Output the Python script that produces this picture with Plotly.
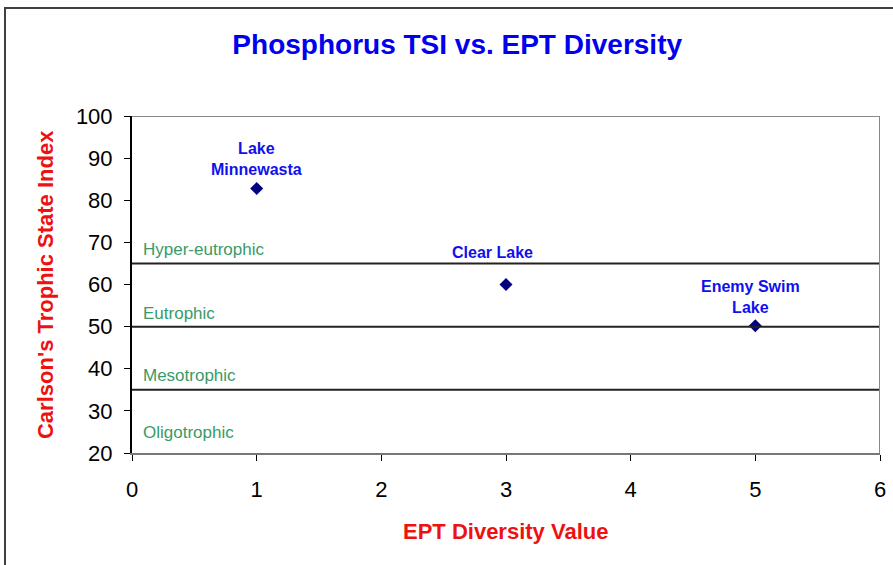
import plotly.graph_objects as go

lakes = ["Lake<br>Minnewasta", "Clear Lake", "Enemy Swim<br>Lake"]
ept_diversity = [1, 3, 5]
tsi = [82.8, 60.0, 50.2]

zone_bounds = [65, 50, 35]
zone_names = ["Hyper-eutrophic", "Eutrophic", "Mesotrophic", "Oligotrophic"]
zone_label_y = [68.2, 53.2, 38.3, 24.8]

x_ticks = [0, 1, 2, 3, 4, 5, 6]
y_ticks = [20, 30, 40, 50, 60, 70, 80, 90, 100]

FONT = "Liberation Sans, Arial, sans-serif"

fig = go.Figure()
fig.add_trace(go.Scatter(
    x=ept_diversity, y=tsi, mode="markers",
    marker=dict(symbol="diamond", size=10, color="#000080"),
    showlegend=False, hoverinfo="skip"))

shapes = []
for b in zone_bounds:
    shapes.append(dict(type="line", xref="x", yref="y", x0=0, x1=6, y0=b, y1=b,
                       line=dict(color="#222222", width=2)))
# plot area top/right borders
shapes.append(dict(type="line", xref="x", yref="y", x0=0, x1=6, y0=100, y1=100,
                   line=dict(color="#888888", width=2)))
shapes.append(dict(type="line", xref="x", yref="y", x0=6, x1=6, y0=20, y1=100,
                   line=dict(color="#888888", width=2)))
# outer chart frame
shapes.append(dict(type="rect", xref="paper", yref="paper", x0=-0.1698, x1=1.2,
                   y0=-0.6, y1=1.3205, line=dict(color="#404040", width=2),
                   layer="below"))

annotations = []
offsets = [(0, 8), (-14, 22), (-5, 8)]
for name, xv, yv, (dx, dy) in zip(lakes, ept_diversity, tsi, offsets):
    annotations.append(dict(x=xv, y=yv, xref="x", yref="y", text="<b>" + name + "</b>",
                            showarrow=False, xshift=dx, yshift=dy, yanchor="bottom",
                            font=dict(family=FONT, size=16, color="#1010ee")))
for name, yv in zip(zone_names, zone_label_y):
    annotations.append(dict(x=0.072, y=yv, xref="x", yref="y", text=name, xanchor="left",
                            yanchor="middle", showarrow=False,
                            font=dict(family=FONT, size=17, color="#3a9a68")))
# axis titles
annotations.append(dict(x=0.4987, y=-0.2315, xref="paper", yref="paper",
                        text="<b>EPT Diversity Value</b>", showarrow=False,
                        xanchor="center", yanchor="middle",
                        font=dict(family=FONT, size=22, color="#ee1111")))
annotations.append(dict(x=-0.1163, y=0.4985, xref="paper", yref="paper",
                        text="<b>Carlson's Trophic State Index</b>", showarrow=False,
                        textangle=-90, xanchor="center", yanchor="middle",
                        font=dict(family=FONT, size=22, color="#ee1111")))

fig.update_layout(
    width=893, height=565,
    margin=dict(l=132, r=13, t=116, b=112),
    paper_bgcolor="white", plot_bgcolor="white",
    title=dict(text="<b>Phosphorus TSI vs. EPT Diversity</b>", x=0.512, xanchor="center",
               y=0.922, yanchor="middle",
               font=dict(family=FONT, size=28, color="#0000ee")),
    xaxis=dict(range=[0, 6], tickvals=x_ticks, showgrid=False, zeroline=False,
               showline=True, linecolor="#777777", linewidth=2, automargin=False,
               ticks="outside", ticklen=6, tickcolor="black", ticklabelstandoff=10,
               tickfont=dict(family=FONT, size=22, color="black")),
    yaxis=dict(range=[20, 100], tickvals=y_ticks, showgrid=False, zeroline=False,
               showline=True, linecolor="black", linewidth=2, automargin=False,
               ticks="outside", ticklen=6, tickcolor="black", ticklabelstandoff=7,
               tickfont=dict(family=FONT, size=22, color="black")),
    shapes=shapes, annotations=annotations,
)

fig.write_html("out.html", config={"displayModeBar": False},
               post_script="document.body.style.margin='0';")
